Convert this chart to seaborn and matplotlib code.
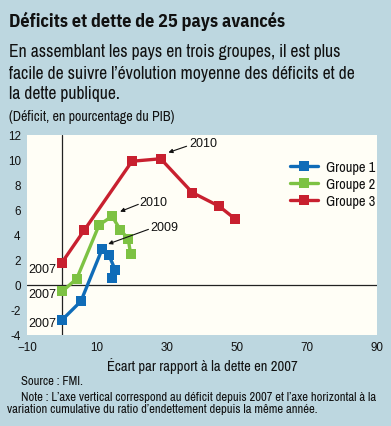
import matplotlib
matplotlib.use("Agg")
import matplotlib.pyplot as plt
import seaborn as sns
import pandas as pd

# ---- data ----
groups = ["Groupe 1", "Groupe 2", "Groupe 3"]
g1_x = [0.0, 5.4, 11.5, 13.4, 15.2, 14.4]
g1_y = [-2.8, -1.3, 2.9, 2.4, 1.2, 0.6]
g2_x = [0.1, 4.2, 10.6, 14.3, 16.7, 18.9, 19.6]
g2_y = [-0.5, 0.5, 4.8, 5.5, 4.4, 3.7, 2.5]
g3_x = [0.0, 6.4, 20.0, 28.2, 37.2, 44.9, 49.4]
g3_y = [1.8, 4.4, 9.9, 10.1, 7.4, 6.3, 5.3]
x_ticks = [-10, 10, 30, 50, 70, 90]
x_tick_labels = ["\u221210", "10", "30", "50", "70", "90"]
y_ticks = [-4, -2, 0, 2, 4, 6, 8, 10, 12]
y_tick_labels = ["-4", "-2", "0", "2", "4", "6", "8", "10", "12"]

BG = "#bdd7e0"
FACE = "#fffef6"
colors = {"Groupe 1": "#0f6cb8", "Groupe 2": "#7dc243", "Groupe 3": "#c8202f"}

rows = []
for g, xs, ys in zip(groups, [g1_x, g2_x, g3_x], [g1_y, g2_y, g3_y]):
    for i, (a, b) in enumerate(zip(xs, ys)):
        rows.append({"group": g, "order": i, "x": a, "y": b})
df = pd.DataFrame(rows)

sns.set_style("white")
NARROW = ["Archivo Narrow", "DejaVu Sans"]
BOLDC = ["IBM Plex Sans Condensed", "DejaVu Sans"]
REG = ["Liberation Sans", "DejaVu Sans"]
plt.rcParams["font.family"] = NARROW

fig = plt.figure(figsize=(3.91, 4.27), dpi=100, facecolor=BG)
ax = fig.add_axes([27 / 391, 1 - 336 / 427, 350 / 391, 200 / 427])
ax.set_facecolor(FACE)

ax.axhline(0, color="#222222", lw=0.9, zorder=1)
ax.axvline(0, color="#222222", lw=0.9, zorder=1)

sns.lineplot(data=df, x="x", y="y", hue="group", hue_order=groups,
             palette=colors, sort=False, estimator=None, units="group",
             marker="s", markersize=6.6, markeredgewidth=0, lw=2.4,
             ax=ax, zorder=3)

ax.set_xlim(-10, 90)
ax.set_ylim(-4, 12)
ax.set_xticks(x_ticks)
ax.set_xticklabels(x_tick_labels, fontfamily=REG, fontsize=8.4)
ax.set_yticks(y_ticks)
ax.set_yticklabels(y_tick_labels, fontfamily=REG, fontsize=8.4)
ax.tick_params(axis="x", direction="in", length=4, width=0.9, color="#222222",
               pad=4, labelcolor="#111111")
ax.tick_params(axis="y", direction="in", length=6, width=0.9, color="#222222",
               pad=4.5, labelcolor="#111111")
for s in ax.spines.values():
    s.set_visible(False)
ax.set_xlabel("\u00c9cart par rapport \u00e0 la dette en 2007", fontsize=10.5,
              labelpad=3, color="#111111")
ax.set_ylabel("")

leg = ax.legend(loc="center left", bbox_to_anchor=(0.751, 0.755), frameon=False,
                fontsize=10.3, handlelength=2.0, handletextpad=0.5,
                labelspacing=0.22, borderpad=0, borderaxespad=0)
for t in leg.get_texts():
    t.set_color("#111111")

# year labels
for yy in [1.28, -0.72, -3.04]:
    ax.text(-1.6, yy, "2007", ha="right", va="center", fontsize=9,
            fontfamily=REG, color="#111111", zorder=4)

# annotations with arrows
ann = [
    ("2010", (36.3, 11.36), (35.6, 11.1), (30.4, 10.6)),
    ("2010", (22.0, 6.66), (21.8, 6.45), (16.6, 5.87)),
    ("2009", (25.1, 4.6), (24.7, 4.45), (13.2, 3.28)),
]
for lab, tpos, tail, head in ann:
    ax.text(tpos[0], tpos[1], lab, ha="left", va="center", fontsize=9,
            fontfamily=REG, color="#111111", zorder=4)
    ax.annotate("", xy=head, xytext=tail,
                arrowprops=dict(arrowstyle="-|>", color="#111111", lw=0.8,
                                mutation_scale=6, shrinkA=0, shrinkB=0),
                zorder=4)

# header texts
H = 427
def ft(x, ybase, s, **kw):
    fig.text(x / 391, 1 - ybase / H, s, va="baseline", ha="left", color="#111111", **kw)

ft(9, 27, "D\u00e9ficits et dette de 25 pays avanc\u00e9s", fontsize=13.1,
   fontweight="bold", fontfamily=BOLDC)
ft(9, 57, "En assemblant les pays en trois groupes, il est plus", fontsize=12.7)
ft(9, 78.5, "facile de suivre l\u2019\u00e9volution moyenne des d\u00e9ficits et de", fontsize=12.7)
ft(9, 99.5, "la dette publique.", fontsize=12.7)
ft(9, 121.5, "(D\u00e9ficit, en pourcentage du PIB)", fontsize=10.1)

ft(21, 385.5, "Source : FMI.", fontsize=9.1)
ft(21, 401.5, "Note : L\u2019axe vertical correspond au d\u00e9ficit depuis 2007 et l\u2019axe horizontal \u00e0 la", fontsize=9.1)
ft(7, 413.5, "variation cumulative du ratio d\u2019endettement depuis la m\u00eame ann\u00e9e.", fontsize=9.1)

fig.savefig("out.png", dpi=100, facecolor=BG)
